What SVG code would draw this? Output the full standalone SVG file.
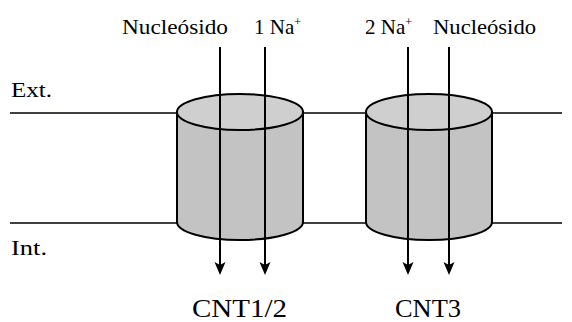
<svg xmlns="http://www.w3.org/2000/svg" width="572" height="322" viewBox="0 0 572 322">
<style>
text{font-family:"Liberation Serif","DejaVu Serif",serif;fill:#000}
.lbl{font-size:21px}
.big{font-size:25px}
.sup{font-size:12px}
.mem{stroke:#000;stroke-width:1.6;fill:none}
.side{fill:#c3c3c3;stroke:#000;stroke-width:2}
.top{fill:#cfcfcf;stroke:#000;stroke-width:2}
.arr{stroke:#000;stroke-width:2;fill:none}
.head{fill:#000}
</style>
<defs>
<path id="ah" d="M-5.5,-13 L0,-10 L5.5,-13 L0,0 Z"/>
</defs>
<g id="membrane">
<line class="mem" x1="10" y1="113" x2="562" y2="113"/>
<line class="mem" x1="10" y1="223" x2="562" y2="223"/>
<text class="lbl" x="11" y="97" textLength="41" lengthAdjust="spacingAndGlyphs">Ext.</text>
<text class="lbl" x="11" y="255" textLength="36" lengthAdjust="spacingAndGlyphs">Int.</text>
</g>
<g id="cnt12">
<path class="side" d="M177,112 L177,222 A63,18 0 0 0 303,222 L303,112 Z"/>
<ellipse class="top" cx="240" cy="112" rx="63" ry="18"/>
<text class="big" x="192" y="317" textLength="95" lengthAdjust="spacingAndGlyphs">CNT1/2</text>
</g>
<g id="cnt3">
<path class="side" d="M366,112 L366,222 A63,18 0 0 0 492,222 L492,112 Z"/>
<ellipse class="top" cx="429" cy="112" rx="63" ry="18"/>
<text class="big" x="395" y="317" textLength="66" lengthAdjust="spacingAndGlyphs">CNT3</text>
</g>
<g id="labels">
<text class="lbl" x="122" y="34" textLength="106" lengthAdjust="spacingAndGlyphs">Nucleósido</text>
<text class="lbl" x="254" y="34">1 Na<tspan class="sup" dy="-8">+</tspan></text>
<text class="lbl" x="365" y="34">2 Na<tspan class="sup" dy="-8">+</tspan></text>
<text class="lbl" x="433" y="34" textLength="103" lengthAdjust="spacingAndGlyphs">Nucleósido</text>
</g>
<g id="connectors">
<line class="arr" x1="220" y1="47" x2="220" y2="266"/>
<line class="arr" x1="265" y1="47" x2="265" y2="266"/>
<line class="arr" x1="408" y1="47" x2="408" y2="266"/>
<line class="arr" x1="449" y1="47" x2="449" y2="266"/>
<use href="#ah" class="head" x="220" y="275"/>
<use href="#ah" class="head" x="265" y="275"/>
<use href="#ah" class="head" x="408" y="275"/>
<use href="#ah" class="head" x="449" y="275"/>
</g>
</svg>
